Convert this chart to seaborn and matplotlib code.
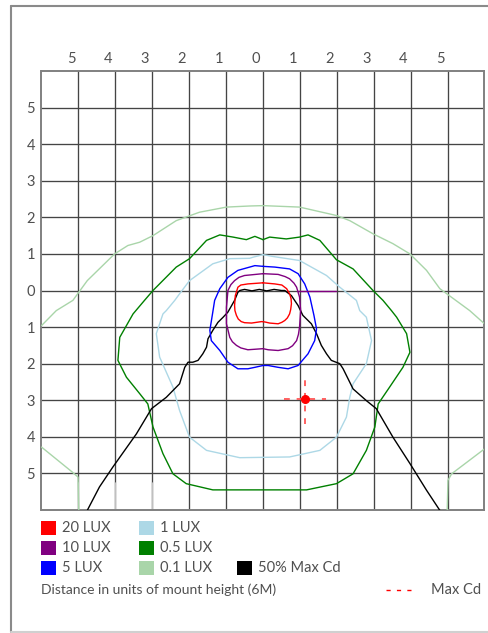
import matplotlib
matplotlib.use("Agg")
import matplotlib.pyplot as plt
import pandas as pd
import seaborn as sns
from matplotlib.patches import Rectangle
from matplotlib.lines import Line2D
from matplotlib.transforms import ScaledTranslation

# Isolux contours in units of mounting height (6 m).
# x: across the road, y: along the road (negative = in front of the luminaire).
lux20_x = [0, 0.32, 0.51, 0.64, 0.72, 0.76, 0.77, 0.75, 0.72, 0.66, 0.59, 0.51, 0.41, 0.18, 0.05,
           -0.04, -0.31, -0.50, -0.59, -0.67, -0.72, -0.76, -0.77, -0.75, -0.68, -0.60, -0.41, 0]
lux20_y = [0.21, 0.18, 0.15, 0.05, -0.09, -0.22, -0.36, -0.52, -0.64, -0.75, -0.82, -0.87, -0.91, -0.89, -0.86,
           -0.85, -0.89, -0.88, -0.85, -0.78, -0.68, -0.55, -0.41, -0.14, 0.09, 0.15, 0.18, 0.21]

lux10_x = [0, 0.41, 0.60, 0.72, 0.84, 0.91, 0.99, 1.02, 0.99, 0.96, 0.91, 0.80, 0.68, 0.41, 0.14, 0,
           -0.41, -0.60, -0.72, -0.83, -0.90, -0.99, -0.99, -0.95, -0.87, -0.77, -0.65, -0.50, 0]
lux10_y = [0.46, 0.44, 0.38, 0.32, 0.20, 0.09, -0.18, -0.55, -1.00, -1.20, -1.37, -1.51, -1.59, -1.64, -1.62, -1.59,
           -1.62, -1.57, -1.50, -1.40, -1.28, -0.91, -0.46, 0.0, 0.16, 0.27, 0.36, 0.41, 0.46]
lux10_tail_x = [0.94, 1.99]
lux10_tail_y = [0.0, 0.0]

lux5_x = [0, 0.32, 0.72, 0.95, 1.13, 1.27, 1.38, 1.45, 1.40, 1.22, 0.95, 0.68, 0.41, 0.14, 0,
          -0.22, -0.41, -0.68, -0.95, -1.17, -1.40, -1.44, -1.36, -1.31, -1.17, -0.95, -0.68, -0.22, 0]
lux5_y = [0.66, 0.64, 0.59, 0.46, 0.18, -0.18, -0.68, -1.05, -1.37, -1.73, -2.05, -2.14, -2.10, -2.05, -2.05,
          -2.10, -2.14, -2.14, -1.96, -1.64, -1.37, -1.09, -0.59, -0.27, 0.05, 0.36, 0.55, 0.68, 0.66]

lux1_x = [0, 0.27, 0.99, 1.72, 2.08, 2.53, 2.62, 2.80, 2.94, 2.80, 2.44, 2.35, 2.26, 1.99, 1.54, 0.72,
          -0.63, -0.90, -1.53, -1.99, -2.26, -2.44, -2.80, -2.89, -2.71, -2.62, -2.39, -2.26, -1.99,
          -1.36, -0.90, -0.36, -0.27, 0]
lux1_y = [0.98, 0.93, 0.82, 0.41, 0.09, -0.27, -0.55, -0.73, -1.37, -2.00, -2.55, -2.92, -3.46, -4.01, -4.37, -4.55,
          -4.57, -4.51, -4.37, -4.01, -3.28, -2.64, -1.82, -1.18, -0.64, -0.55, -0.27, -0.09, 0.27,
          0.73, 0.87, 0.88, 0.91, 0.98]

lux05_x = [0, 0.18, 0.63, 0.99, 1.22, 1.54, 1.99, 2.44, 2.98, 3.25, 3.48, 3.62, 3.89, 3.98, 3.79, 3.43,
           3.12, 3.03, 2.80, 2.44, 1.99, 1.18, -0.36, -1.36, -2.08, -2.44, -2.71, -2.98, -3.12, -3.34,
           -3.70, -3.93, -3.88, -3.52, -3.21, -2.98, -2.35, -1.99, -1.53, -1.17, -0.81, -0.45, -0.22, 0]
lux05_y = [1.39, 1.46, 1.41, 1.46, 1.52, 1.37, 0.84, 0.59, 0.0, -0.27, -0.55, -0.73, -1.18, -1.69, -2.10, -2.64,
           -3.10, -3.73, -4.37, -5.01, -5.28, -5.45, -5.45, -5.45, -5.28, -5.01, -4.46, -3.73, -3.10, -2.82,
           -2.37, -1.91, -1.28, -0.64, -0.27, 0.0, 0.64, 0.87, 1.37, 1.52, 1.46, 1.39, 1.48, 1.39]

lux01_x = [-6.0, -5.60, -5.15, -4.76, -4.02, -3.66, -3.34, -2.98, -2.35, -1.72, -0.99, -0.36, 0,
           0.99, 1.99, 2.35, 2.98, 3.52, 3.98, 4.43, 4.79, 5.60, 6.0]
lux01_y = [-0.96, -0.55, -0.27, 0.27, 1.00, 1.23, 1.32, 1.50, 1.91, 2.14, 2.28, 2.31, 2.32,
           2.28, 2.05, 1.91, 1.55, 1.28, 1.00, 0.55, 0.05, -0.55, -0.91]
lux01_left_x = [-6.0, -5.17, -5.01, -4.99]
lux01_left_y = [-4.28, -4.96, -5.10, -6.0]
lux01_right_x = [6.0, 5.11, 5.01, 4.99]
lux01_right_y = [-4.33, -5.01, -5.19, -6.0]

half_cd_x = [-4.76, -4.43, -4.07, -3.43, -3.02, -2.62, -2.26, -2.12, -2.03, -1.90, -1.76, -1.63, -1.53,
             -1.49, -1.36, -1.22, -1.08, -0.95, -0.77, -0.68, -0.63, -0.50, -0.30, -0.10, 0.10, 0.30, 0.50,
             0.59, 0.77, 0.95, 1.08, 1.31, 1.45, 1.58, 1.72, 1.85, 2.08, 2.17, 2.44, 2.80, 3.07, 3.52,
             3.98, 4.43, 4.79]
half_cd_y = [-6.01, -5.37, -4.83, -3.92, -3.23, -2.92, -2.55, -2.10, -1.96, -1.96, -1.91, -1.73, -1.55,
             -1.32, -1.09, -0.87, -0.73, -0.59, -0.27, -0.05, 0.0, 0.03, -0.01, 0.03, -0.01, 0.03, 0.0,
             0.0, -0.14, -0.41, -0.68, -0.91, -1.18, -1.50, -1.73, -1.91, -2.00, -2.14, -2.69, -3.01, -3.23, -4.01,
             -4.73, -5.46, -6.01]

max_cd_x = 1.13
max_cd_y = -2.96

tick_values = [-5, -4, -3, -2, -1, 0, 1, 2, 3, 4, 5]

legend_labels = ["20 LUX", "10 LUX", "5 LUX", "1 LUX", "0.5 LUX", "0.1 LUX", "50% Max Cd"]
legend_colors = ["#ff0000", "#800080", "#0000ff", "#add8e6", "#008000", "#a9d5a9", "#000000"]

W, H = 489, 633
sns.set_theme(style="white")
plt.rcParams["font.family"] = ["Lato", "DejaVu Sans"]
TXT = "#505050"
FS = 10

fig = plt.figure(figsize=(W / 100, H / 100), dpi=100)
ax = fig.add_axes([41.5 / W, 1 - 510 / H, 443 / W, 439 / H])
ax.set_xlim(-6, 6)
ax.set_ylim(-6, 6)

# grid
ax.set_xticks(tick_values)
ax.set_yticks(tick_values)
ax.grid(True, color="#444444", linewidth=0.95)
ax.set_axisbelow(True)
for s in ax.spines.values():
    s.set_color("#808080")
    s.set_linewidth(1.4)
ax.tick_params(length=0, labelsize=FS + 0.5, colors=TXT)
ax.xaxis.tick_top()
ax.set_xticklabels([str(abs(v)) for v in tick_values])
ax.set_yticklabels([str(abs(v)) for v in tick_values])
ax.tick_params(axis="x", pad=3.5)
ax.tick_params(axis="y", pad=4.5)
shift = ScaledTranslation(-7.2 / 100, 0, fig.dpi_scale_trans)
for lab in ax.get_xticklabels():
    lab.set_transform(lab.get_transform() + shift)

# faded grid segments in the bottom row
for gx in (-5, -4, -3):
    ax.plot([gx, gx], [-6, -5.25], color="#d9d9d9", lw=1.2, zorder=1.5)


def contour(xs, ys, color, lw=1.0):
    df = pd.DataFrame({"x": xs, "y": ys})
    sns.lineplot(data=df, x="x", y="y", sort=False, estimator=None, color=color,
                 linewidth=lw, ax=ax, zorder=3)


contour(lux01_x, lux01_y, legend_colors[5])
contour(lux01_left_x, lux01_left_y, legend_colors[5])
contour(lux01_right_x, lux01_right_y, legend_colors[5])
contour(lux05_x, lux05_y, legend_colors[4])
contour(lux1_x, lux1_y, legend_colors[3])
contour(half_cd_x, half_cd_y, legend_colors[6])
contour(lux5_x, lux5_y, legend_colors[2])
contour(lux10_x, lux10_y, legend_colors[1])
contour(lux10_tail_x, lux10_tail_y, legend_colors[1])
contour(lux20_x, lux20_y, legend_colors[0])
ax.set_xlabel("")
ax.set_ylabel("")

# maximum candela point
ax.plot([max_cd_x - 0.57, max_cd_x + 0.57], [max_cd_y, max_cd_y], color="#ff5555",
        lw=1.3, dashes=(3.2, 3.8), zorder=4)
ax.plot([max_cd_x, max_cd_x], [max_cd_y - 0.68, max_cd_y + 0.68], color="#ff5555",
        lw=1.3, dashes=(3.2, 3.8), zorder=4)
ax.plot([max_cd_x], [max_cd_y], "o", color="#ff0000", ms=5.5, zorder=5)


def fy(py):
    return 1 - py / H


# legend
entries = [(41, 528), (41, 548), (41, 568), (139, 528), (139, 548), (139, 568), (237, 568)]
for (px, py), lab, col in zip(entries, legend_labels, legend_colors):
    fig.patches.append(Rectangle((px / W, fy(py + 7)), 15 / W, 14 / H, transform=fig.transFigure,
                                 facecolor=col, edgecolor="none"))
    fig.text((px + 21) / W, fy(py), lab, ha="left", va="center", fontsize=FS + 0.5, color=TXT)

fig.text(41 / W, fy(590), "Distance in units of mount height (6M)", ha="left", va="center",
         fontsize=FS, color=TXT)
fig.lines.append(Line2D([386 / W, 411 / W], [fy(590), fy(590)], transform=fig.transFigure,
                        color="#ff0000", lw=1.0, dashes=(3, 4.5)))
fig.text(431 / W, fy(590), "Max Cd", ha="left", va="center", fontsize=FS + 0.5, color=TXT)

# outer frame
fig.lines.append(Line2D([11 / W, 11 / W], [fy(631.5), fy(6)], transform=fig.transFigure,
                        color="#8a8a8a", lw=1.5))
fig.lines.append(Line2D([11 / W, 1.0], [fy(6), fy(6)], transform=fig.transFigure,
                        color="#8a8a8a", lw=1.5))
fig.lines.append(Line2D([11 / W, 1.0], [fy(631.5), fy(631.5)], transform=fig.transFigure,
                        color="#d0d0d0", lw=1.5))

fig.savefig("out.png", dpi=100)
